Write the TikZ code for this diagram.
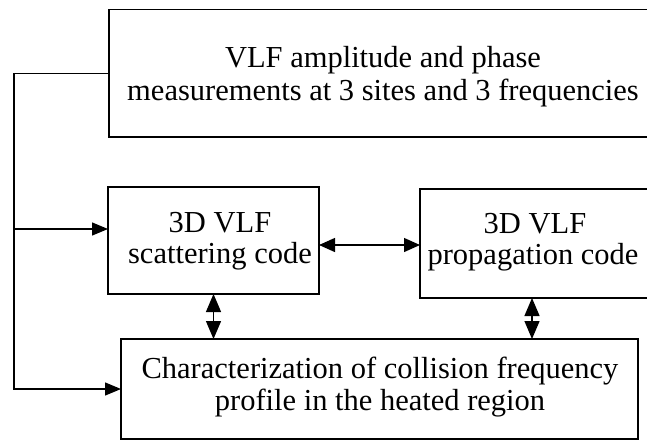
\documentclass[tikz,border=0pt]{standalone}
\usepackage{fontspec}
\setmainfont{Liberation Serif}
\usetikzlibrary{arrows.meta,calc}
\begin{document}
\begin{tikzpicture}[x=1pt,y=-1pt,
  box/.style={draw,line width=1.3pt,inner sep=0pt,outer sep=0pt},
  txt/.style={anchor=base,inner sep=0pt,font=\fontsize{30.5}{30}\selectfont},
  conn/.style={line width=1.3pt},
  tip/.style={-{Triangle[length=16pt,width=13pt]}},
  dtip/.style={{Triangle[length=16pt,width=14pt]}-{Triangle[length=16pt,width=14pt]}},
  vtip/.style={{Triangle[length=18pt,width=15pt]}-{Triangle[length=18pt,width=15pt]}}]
\clip (0,0) rectangle (647,442);
\fill[white] (0,0) rectangle (647,442);
% boxes
\node[box,minimum width=551pt,minimum height=127.5pt] (top) at (384.5,73.25) {};
\node[box,minimum width=211pt,minimum height=107pt] (scat) at (213.5,240.5) {};
\node[box,minimum width=240pt,minimum height=109pt] (prop) at (540,243.5) {};
\node[box,minimum width=517pt,minimum height=100pt] (char) at (379.5,389) {};
% texts
\node[txt] (t1) at (383,67) {VLF amplitude and phase};
\node[txt] (t2) at (383,100) {measurements at 3 sites and 3 frequencies};
\node[txt] (s1) at (220,232) {3D VLF};
\node[txt] (s2) at (220,263) {scattering code};
\node[txt] (p1) at (535,233) {3D VLF};
\node[txt] (p2) at (533,264) {propagation code};
\node[txt] (c1) at (380,378) {Characterization of collision frequency};
\node[txt] (c2) at (380,410) {profile in the heated region};
% helper coordinates
\coordinate (bus) at (14,0);
\coordinate (hy) at (0,245);
\coordinate (pv) at (532,0);
\coordinate (sin) at ([yshift=11.5pt]scat.west);
% connectors
\draw[conn,tip] (top.west) -- (top.west -| bus) |- (char.west);
\draw[conn,tip] (bus |- sin) -- (sin);
\draw[conn,dtip] (scat.east |- hy) -- (prop.west |- hy);
\draw[conn,vtip] (scat.south) -- (scat.south |- char.north);
\draw[conn,vtip] (pv |- prop.south) -- (pv |- char.north);
\end{tikzpicture}
\end{document}
